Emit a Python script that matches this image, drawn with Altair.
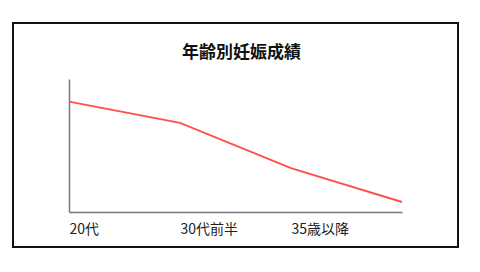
import altair as alt
import pandas as pd

categories = ["20代", "30代前半", "35歳以降", ""]
positions = [0, 1, 2, 3]
values = [83, 67, 33, 7.5]

df = pd.DataFrame({"pos": positions, "cat": categories, "val": values})

label_expr = "datum.value == 0 ? '20代' : datum.value == 1 ? '30代前半' : datum.value == 2 ? '35歳以降' : ''"

line = alt.Chart(df).mark_line(color="#ff5050", strokeWidth=2, clip=False).encode(
    x=alt.X("pos:Q", scale=alt.Scale(domain=[0, 3], nice=False, zero=False),
            axis=alt.Axis(values=[0, 1, 2], labelExpr=label_expr, title=None, grid=False,
                          ticks=False, labelAlign="left", labelPadding=10, labelFontSize=14,
                          labelColor="#222222", labelFont="Noto Sans CJK JP",
                          domainColor="#777777", domainWidth=1.5)),
    y=alt.Y("val:Q", scale=alt.Scale(domain=[0, 100], nice=False),
            axis=alt.Axis(title=None, labels=False, ticks=False, grid=False,
                          domainColor="#777777", domainWidth=1.5)),
)

frame = alt.Chart(pd.DataFrame({"a": [0]})).mark_rect(
    fill=None, stroke="#111111", strokeWidth=2, clip=False
).encode(
    x=alt.value(-56), x2=alt.value(389), y=alt.value(-56), y2=alt.value(168)
)

chart = alt.layer(frame, line).properties(
    width=333, height=133,
    background="white",
    title=alt.TitleParams("年齢別妊娠成績", fontSize=17, fontWeight="bold",
                          font="Noto Sans CJK JP", color="#111111", dx=6, dy=48,
                          offset=0, baseline="middle"),
    padding={"left": 69, "top": 79, "right": 78, "bottom": 60},
    autosize=alt.AutoSizeParams(type="none"),
).configure_view(strokeWidth=0, stroke="transparent")

chart.save("out.html", embed_options={"renderer": "svg", "actions": False})
